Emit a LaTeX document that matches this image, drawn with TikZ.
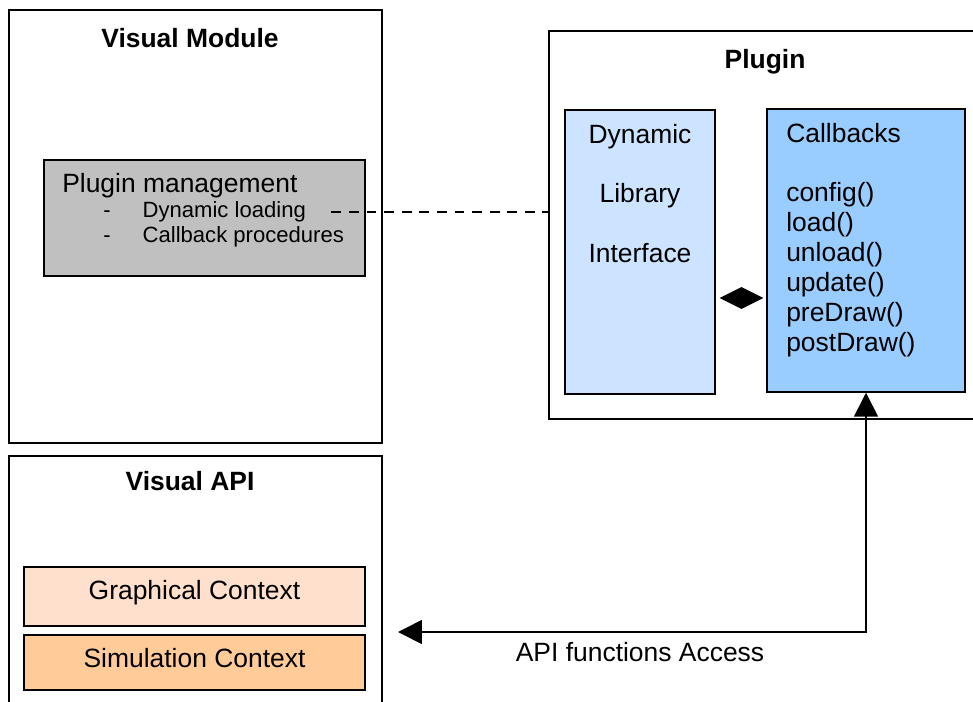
\documentclass[tikz,border=0pt]{standalone}
\usepackage{fontspec}
\setmainfont{Liberation Sans}
\usepackage{tikz}
\usetikzlibrary{arrows.meta, positioning, shapes.geometric, calc}
\definecolor{pmgray}{RGB}{192,192,192}
\definecolor{dliblue}{RGB}{204,228,255}
\definecolor{cbblue}{RGB}{153,204,255}
\definecolor{gcpeach}{RGB}{255,224,204}
\definecolor{scorange}{RGB}{255,204,153}
\newcommand{\mainsize}{\fontsize{18.8}{21.3}\selectfont}
\newcommand{\itemsize}{\fontsize{15.7}{18}\selectfont}
\tikzset{
  outerbox/.style={draw,line width=1pt,inner sep=0pt},
  innerbox/.style={draw,line width=1pt,inner sep=0pt,font=\mainsize},
  ctxbox/.style={innerbox,minimum width=8.525cm,text depth=#1},
  titletext/.style={font=\mainsize\bfseries,inner sep=0pt},
  bodytext/.style={font=\mainsize,inner sep=0pt},
  itemtext/.style={font=\itemsize,inner sep=0pt},
  linkline/.style={line width=1pt,dash pattern=on 7pt off 5.5pt},
  apiarrow/.style={line width=1.2pt,{Triangle[length=17pt,width=17pt]}-{Triangle[length=17pt,width=17pt]}},
}

\begin{document}
\begin{tikzpicture}[x=0.025cm,y=-0.025cm]
  \useasboundingbox (0,0) rectangle (973,702);
  \clip (0,0) rectangle (973,702);
  % Visual module
  \node[outerbox,minimum width=9.325cm,minimum height=10.825cm] (vmod) at (195.5,226.5) {};
  \node[titletext] (vmodtitle) at (190,38) {Visual Module};
  \node[innerbox,fill=pmgray,minimum width=8.025cm,minimum height=2.9cm] (pmbox) at (204.5,218) {};
  \node[bodytext,anchor=west] (pmtitle) at (62,186) {Plugin management};
  \node[itemtext,anchor=west] (pmitema) at (103,212) {\makebox[28pt][l]{-}Dynamic loading};
  \node[itemtext,anchor=west] (pmitemb) at (103,237) {\makebox[28pt][l]{-}Callback procedures};
  % Plugin
  \node[outerbox,minimum width=11.275cm,minimum height=9.7cm] (plugin) at (774.5,225) {};
  \node[titletext] (plugintitle) at (765,62) {Plugin};
  \node[innerbox,fill=dliblue,minimum width=3.75cm,minimum height=7.1cm] (dli) at (640,252) {};
  \node[bodytext,align=center,anchor=north] (dlitext) at (640,124) {Dynamic\\[21pt]Library\\[21pt]Interface};
  \node[innerbox,fill=cbblue,minimum width=4.95cm,minimum height=7.075cm] (cb) at (866,250.5) {};
  \node[bodytext,align=left,anchor=north west] (cbtext) at (786,123)
    {Callbacks\\[21pt]config()\\load()\\unload()\\update()\\preDraw()\\postDraw()};
  \node[diamond,fill=black,inner sep=0pt,minimum width=1.1cm,minimum height=0.55cm] (agg) at (741.5,298) {};
  % Visual API
  \node[outerbox,minimum width=9.325cm,minimum height=6.6cm] (vapi) at (195.5,588) {};
  \node[titletext] (vapititle) at (190,481) {Visual API};
  \node[ctxbox=10pt,fill=gcpeach,minimum height=1.475cm] (gc) at (194.5,596.5) {Graphical Context};
  \node[ctxbox=6pt,fill=scorange,minimum height=1.375cm] (sc) at (194.5,662.5) {Simulation Context};
  % connectors
  \draw[linkline,shorten <=18pt] (pmitema.east) -- (pmitema.east -| plugin.west);
  \coordinate (apiin) at (398,632);
  \draw[apiarrow] (cb.south) |- (apiin);
  \node[bodytext] (apilbl) at (640,652) {API functions Access};
\end{tikzpicture}
\end{document}
